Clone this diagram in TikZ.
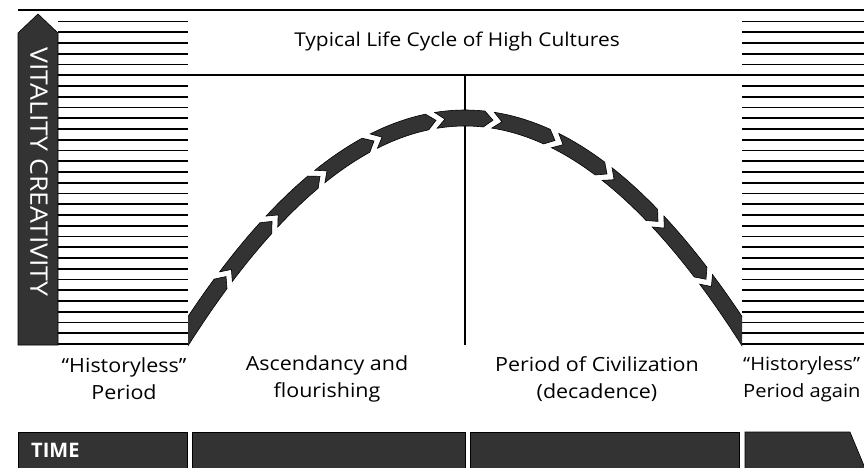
\documentclass[tikz,border=0pt]{standalone}
\usepackage{fontspec}
\setmainfont[FakeStretch=1.1]{Open Sans}
\newfontfamily\plainfont{Open Sans}
\definecolor{halftone}{gray}{0.2}
\begin{document}
\begin{tikzpicture}[x=1pt,y=-1pt,
  declare function={pm(\x)=0.005552*(\x-465); pc(\x)=1/sqrt(1+pm(\x)*pm(\x)); py(\x)=118+(0.052688*(\x-465))*(0.052688*(\x-465));},
  hatch/.style={black,line width=1.8pt},
  darkfill/.style={fill=halftone,draw=black,line width=0.6pt},
  lbl/.style={font=\fontsize{19.5}{27}\selectfont,align=center,inner sep=0pt},
]
\useasboundingbox (0,0) rectangle (864,467);
% top line and title line
\draw[hatch] (18,10) -- (864,10);
\draw[hatch] (58,75) -- (864,75);
% hatching
\foreach \i in {0,...,30} {
  \draw[hatch] (58,{21.5+\i*10.75}) -- (188,{21.5+\i*10.75});
  \draw[hatch] (742,{21.5+\i*10.75}) -- (864,{21.5+\i*10.75});
}
% vertical axis arrow
\path[darkfill] (18,345) -- (18,33) -- (38,14) -- (58,33) -- (58,345) -- cycle;
\node[rotate=-90,text=white,font=\plainfont\fontsize{21}{24}\selectfont,inner sep=0pt] (axis) at (39,172) {\scalebox{1.27}[1.15]{VITALITY CREATIVITY}};
% title
\node[font=\fontsize{19}{22}\selectfont,inner sep=0pt] (title) at (457,42) {Typical Life Cycle of High Cultures};
% centre line
\draw[line width=1.2pt] (465,75) -- (465,345);
% curve segments
\begin{scope}
\clip (188,0) rectangle (742,467);
\def\w{8}\def\h{9}
\foreach \T [remember=\T as \Tp (initially 150)] in {226,272,320,374,436,493,555,607,658,706,780} {
  \pgfmathsetmacro\N{\Tp+9*pc(\Tp)}
  \pgfmathsetmacro\s{\N-\h*pc(\N)}
  \pgfmathsetmacro\e{\T-\h*pc(\T)}
  \path[darkfill] plot[domain=\s:\e,samples=10,variable=\x] ({\x+\w*pm(\x)*pc(\x)},{py(\x)-\w*pc(\x)})
    -- ({\T},{py(\T)})
    -- plot[domain=\e:\s,samples=10,variable=\x] ({\x-\w*pm(\x)*pc(\x)},{py(\x)+\w*pc(\x)})
    -- ({\N},{py(\N)}) -- cycle;
}
\end{scope}
% period labels
\node[lbl] (p1) at (124,379) {``Historyless''\\Period};
\node[lbl] (p2) at (327,379) {Ascendancy and\\flourishing};
\node[lbl] (p3) at (597,379) {Period of Civilization\\(decadence)};
\node[lbl,anchor=west,align=left,font=\fontsize{18.3}{27}\selectfont] (p4) at (743,379) {``Historyless''\\Period again};
% time bar
\begin{scope}
\clip (0,0) rectangle (864,467);
\path[darkfill] (18,432) rectangle (187,480);
\path[darkfill] (192,432) rectangle (465,480);
\path[darkfill] (470,432) rectangle (739,480);
\path[darkfill] (745,432) -- (850,432) -- (870,480) -- (745,480) -- cycle;
\end{scope}
\node[anchor=west,text=white,font=\plainfont\fontsize{20}{22}\selectfont\bfseries,inner sep=0pt] (time) at (31,450) {TIME};
\end{tikzpicture}
\end{document}
